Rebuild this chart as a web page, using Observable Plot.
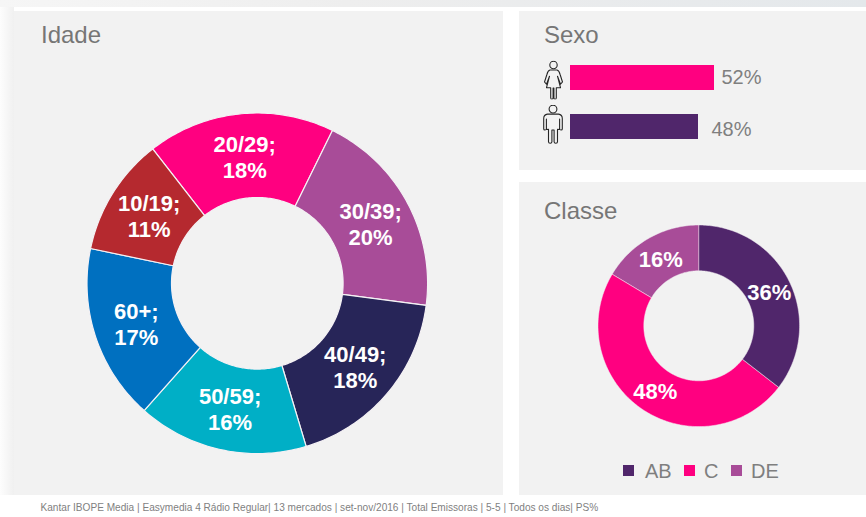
<!DOCTYPE html>
<html lang="pt">
<head>
<meta charset="utf-8">
<title>Idade, Sexo, Classe</title>
<script src="https://cdn.jsdelivr.net/npm/d3@7"></script>
<script src="https://cdn.jsdelivr.net/npm/@observablehq/plot@0.6"></script>
<style>
  html, body { margin: 0; padding: 0; background: #fff; }
  body { width: 866px; height: 517px; position: relative; overflow: hidden;
         font-family: "Liberation Sans", Arial, sans-serif; }
  .topband { position: absolute; left: 0; top: 0; width: 866px; height: 7px;
             background: linear-gradient(90deg, #f6f6f6, #eeeeee 40%, #e4e8eb); }
  .leftband { position: absolute; left: 0; top: 7px; width: 14px; height: 488px;
              background: linear-gradient(90deg, #fdfdfd, #f0f0f0); }
  .panel { position: absolute; background: #f2f2f2; }
  .title { position: absolute; font-size: 24px; line-height: 28px; color: #767676; }
  .panel svg { position: absolute; overflow: visible; }
  .leg { position: absolute; top: 461px; font-size: 20px; line-height: 20px; color: #7f7f7f; }
  .sw { position: absolute; top: 465px; width: 11px; height: 11px; }
  .foot { position: absolute; left: 40.5px; top: 502px; font-size: 10.1px; line-height: 12px; color: #7f7f7f; white-space: nowrap; }
</style>
</head>
<body>
<div class="topband"></div>
<div class="leftband"></div>
<div class="panel" id="p1" style="left:14px;top:11px;width:489px;height:484px"></div>
<div class="panel" id="p2" style="left:519px;top:11px;width:347px;height:159px"></div>
<div class="panel" id="p3" style="left:519px;top:182px;width:347px;height:313px"></div>
<div class="title" style="left:41px;top:21px">Idade</div>
<div class="title" style="left:544px;top:21px">Sexo</div>
<div class="title" style="left:544px;top:197px">Classe</div>
<div id="legend"></div>
<div class="foot" id="foot"></div>
<script>
// ---- data ----
const idadeCats = ["20/29", "30/39", "40/49", "50/59", "60+", "10/19"];
const idadeVals = [17.8, 19.8, 18.3, 16.2, 16.7, 11.2];
const idadeColors = ["#ff0080", "#a84c98", "#272558", "#00afc6", "#0070c0", "#b5292f"];
const idadeStartDeg = -37.9;

const sexoCats = ["Feminino", "Masculino"];
const sexoVals = [52, 48];
const sexoColors = ["#ff0080", "#50266b"];

const classeCats = ["AB", "C", "DE"];
const classeVals = [35.5, 48.1, 16.4];
const classeColors = ["#50266b", "#ff0080", "#a84c98"];

const footText = "Kantar IBOPE Media | Easymedia 4 Rádio Regular| 13 mercados | set-nov/2016 | Total Emissoras | 5-5 | Todos os dias| PS%";

// ---- helpers ----
const FONT = '"Liberation Sans", Arial, sans-serif';
const toRad = d => d * Math.PI / 180;

// ring band rows for Plot.area: outer and inner edge per sampled angle
function ringRows(cats, vals, startDeg, inner) {
  const rows = [];
  let a = startDeg;
  cats.forEach((name, i) => {
    const sweep = vals[i] * 3.6;
    const n = Math.ceil(sweep);
    for (let k = 0; k <= n; k++) {
      const t = toRad(a + sweep * k / n);
      rows.push({
        name,
        x1: Math.sin(t), y1: Math.cos(t),
        x2: inner * Math.sin(t), y2: inner * Math.cos(t)
      });
    }
    a += sweep;
  });
  return rows;
}
function labelRows(cats, vals, startDeg, r, fmt) {
  let a = startDeg;
  return cats.map((name, i) => {
    const mid = toRad(a + vals[i] * 1.8);
    a += vals[i] * 3.6;
    return { text: fmt(name, Math.round(vals[i])), x: r * Math.sin(mid), y: r * Math.cos(mid) };
  });
}
function donut({ host, left, top, size, cats, vals, colors, start, inner, labelR, fmt, sep }) {
  const chart = Plot.plot({
    width: size, height: size,
    margin: 0,
    x: { domain: [-1, 1], axis: null },
    y: { domain: [-1, 1], axis: null },
    color: { domain: cats, range: colors },
    style: { background: "transparent", fontFamily: FONT, overflow: "visible" },
    marks: [
      Plot.area(ringRows(cats, vals, start, inner), {
        x1: "x1", y1: "y1", x2: "x2", y2: "y2", z: "name",
        fill: "name", stroke: "#f4f1f4", strokeWidth: sep
      }),
      Plot.text(labelRows(cats, vals, start, labelR, fmt), {
        x: "x", y: "y", text: "text",
        fill: "#fff", fontSize: 22, fontWeight: "bold", lineHeight: 1.18
      })
    ]
  });
  chart.style.left = left + "px";
  chart.style.top = top + "px";
  document.getElementById(host).appendChild(chart);
}

// ---- Idade ----
donut({
  host: "p1", left: 87.2 - 14, top: 113.2 - 11, size: 340.6,
  cats: idadeCats, vals: idadeVals, colors: idadeColors,
  start: idadeStartDeg, inner: 85.8 / 170.3, labelR: 128 / 170.3,
  fmt: (n, v) => `${n};\n${v}%`, sep: 1.2
});

// ---- Classe ----
donut({
  host: "p3", left: 597.6 - 519, top: 225.2 - 182, size: 201.6,
  cats: classeCats, vals: classeVals, colors: classeColors,
  start: 0, inner: 55 / 100.8, labelR: 78 / 100.8,
  fmt: (n, v) => `${v}%`, sep: 0.5
});

// ---- Sexo ----
const svgUri = s => "data:image/svg+xml," + encodeURIComponent(s);
const woman = svgUri(`<svg xmlns="http://www.w3.org/2000/svg" viewBox="0 0 20 39" fill="none" stroke="#262626" stroke-width="1.1" stroke-linejoin="round" stroke-linecap="round"><circle cx="10" cy="4.5" r="3.7"/><path d="M6.5 9.5C4.5 10 4 11.5 3.4 14L1 21.5l2 2.2 3-8-3 11.5h4.2v10c0 2 2.4 2 2.4 0V27.5h.8v9.7c0 2 2.4 2 2.4 0v-10H17l-3-11.5 3 8 2-2.2L16.6 14c-.6-2.5-1-4-3.1-4.5z"/></svg>`);
const man = svgUri(`<svg xmlns="http://www.w3.org/2000/svg" viewBox="0 0 21 40" fill="none" stroke="#262626" stroke-width="1.1" stroke-linejoin="round" stroke-linecap="round"><circle cx="10.5" cy="4.6" r="3.9"/><path d="M5 9.6C2.5 10 1.2 11.5 1.2 14v10.5c0 1.3 2.5 1.3 2.7 0V14.5v10.5L6 24.9v12.3c0 2 3.4 2 3.4 0V25.5h2.2v11.7c0 2 3.4 2 3.4 0V24.9l2.1.1V14.5v10c.2 1.3 2.7 1.3 2.7 0V14c0-2.5-1.3-4-3.8-4.4z"/></svg>`);

const sexo = sexoCats.map((name, i) => ({ name, value: sexoVals[i], label: sexoVals[i] + "%", icon: i ? man : woman }));
const sexoBase = 16; // the reference bars do not start from zero
const sexoChart = Plot.plot({
  width: 347, height: 159,
  margin: 0,
  x: { domain: [sexoBase, 52], range: [51, 195], axis: null },
  y: { domain: sexoCats, range: [54, 128], paddingInner: 24 / 49, paddingOuter: 0, axis: null },
  color: { domain: sexoCats, range: sexoColors },
  style: { background: "transparent", fontFamily: FONT, overflow: "visible" },
  marks: [
    Plot.barX(sexo, { x1: () => sexoBase, x2: "value", y: "name", fill: "name" }),
    Plot.image(sexo.slice(0, 1), { x: () => sexoBase, y: "name", src: "icon", width: 20, height: 39, dx: -17, dy: 2 }),
    Plot.image(sexo.slice(1), { x: () => sexoBase, y: "name", src: "icon", width: 21, height: 40, dx: -17.5, dy: -2.5 }),
    Plot.text(sexo.slice(0, 1), { x: "value", y: "name", text: "label", textAnchor: "start", dx: 7, fill: "#7f7f7f", fontSize: 20 }),
    Plot.text(sexo.slice(1), { x: "value", y: "name", text: "label", textAnchor: "start", dx: 13, dy: 2.5, fill: "#7f7f7f", fontSize: 20 })
  ]
});
sexoChart.style.left = "0px";
sexoChart.style.top = "0px";
document.getElementById("p2").appendChild(sexoChart);

// ---- Classe legend and footer ----
const legendX = [[623, 645], [684, 704], [731, 751]];
const legend = document.getElementById("legend");
classeCats.forEach((c, i) => {
  const sw = document.createElement("div");
  sw.className = "sw";
  sw.style.left = legendX[i][0] + "px";
  sw.style.background = classeColors[i];
  const t = document.createElement("div");
  t.className = "leg";
  t.style.left = legendX[i][1] + "px";
  t.textContent = c;
  legend.append(sw, t);
});
document.getElementById("foot").textContent = footText;
</script>
</body>
</html>
